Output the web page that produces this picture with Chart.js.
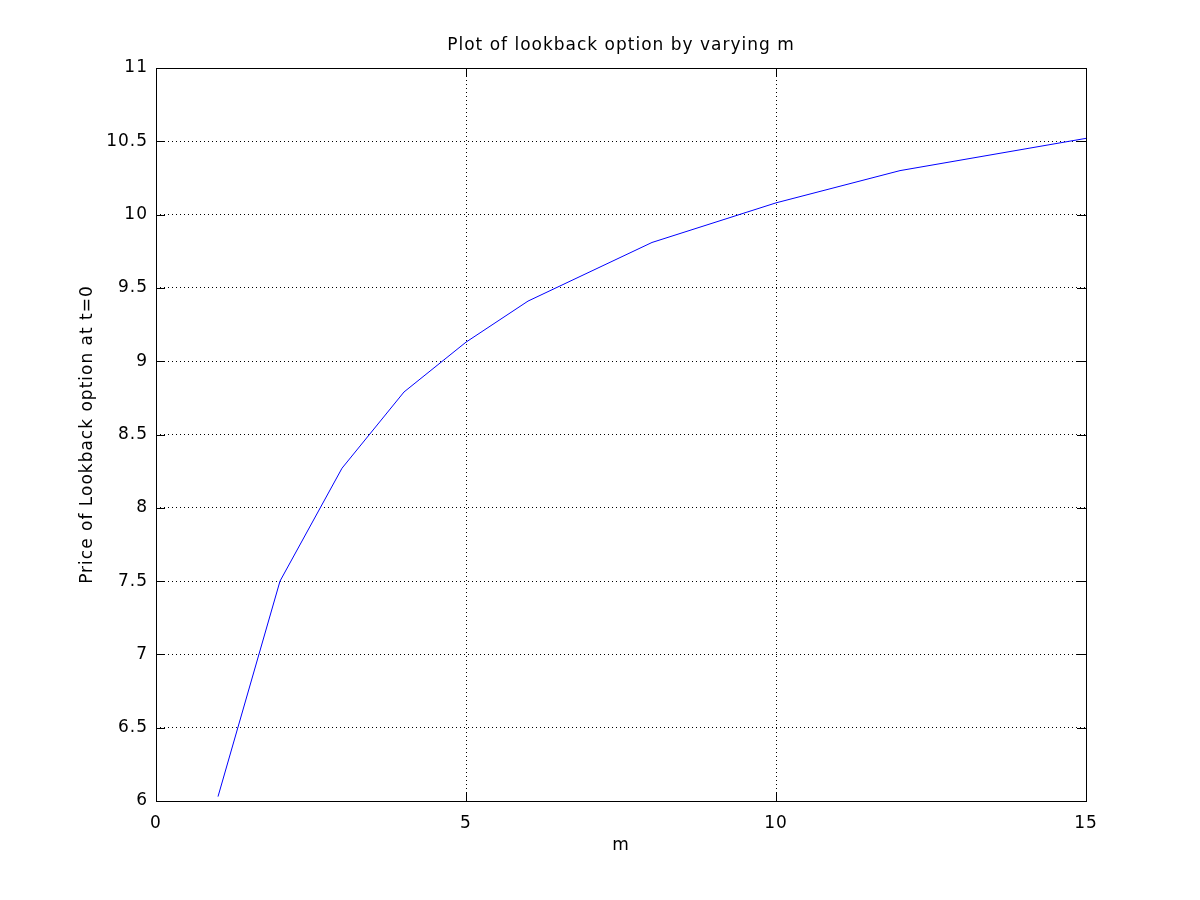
<!DOCTYPE html>
<html>
<head>
<meta charset="utf-8">
<script src="https://cdn.jsdelivr.net/npm/chart.js@4.4.0/dist/chart.umd.min.js"></script>
<style>
html,body{margin:0;padding:0;background:#fff;}
#wrap{width:1200px;height:900px;position:relative;}
</style>
</head>
<body>
<div id="wrap"><canvas id="c" width="1200" height="900"></canvas></div>
<script>
const mValues = [1, 2, 3, 4, 5, 6, 8, 10, 12, 15];
const prices = [6.03, 7.50, 8.27, 8.79, 9.13, 9.41, 9.81, 10.08, 10.30, 10.52];
const xTicks = [0, 5, 10, 15];
const yTicks = [6, 6.5, 7, 7.5, 8, 8.5, 9, 9.5, 10, 10.5, 11];
const titleText = 'Plot of lookback option by varying m';
const xTitle = 'm';
const yTitle = 'Price of Lookback option at t=0';

const FONT = '"DejaVu Sans", "Liberation Sans", Arial, sans-serif';
const FS = 17;

const spacingPlugin = {
  id: 'spacing',
  beforeDraw(chart) { chart.ctx.letterSpacing = '1px'; }
};

const framePlugin = {
  id: 'frame',
  afterDraw(chart) {
    const ctx = chart.ctx;
    const a = chart.chartArea;
    const xs = chart.scales.x, ys = chart.scales.y;
    ctx.save();
    ctx.strokeStyle = '#000';
    ctx.lineWidth = 1;
    ctx.setLineDash([]);
    ctx.strokeRect(Math.round(a.left) + 0.5, Math.round(a.top) + 0.5,
      Math.round(a.right - a.left), Math.round(a.bottom - a.top));
    const L = 9;
    ctx.beginPath();
    xTicks.forEach(v => {
      const px = Math.round(xs.getPixelForValue(v)) + 0.5;
      ctx.moveTo(px, a.bottom); ctx.lineTo(px, a.bottom - L);
      ctx.moveTo(px, a.top); ctx.lineTo(px, a.top + L);
    });
    yTicks.forEach(v => {
      const py = Math.round(ys.getPixelForValue(v)) + 0.5;
      ctx.moveTo(a.left, py); ctx.lineTo(a.left + L, py);
      ctx.moveTo(a.right, py); ctx.lineTo(a.right - L, py);
    });
    ctx.stroke();
    ctx.fillStyle = '#000';
    ctx.letterSpacing = '1px';
    ctx.font = FS + 'px ' + FONT;
    ctx.textAlign = 'center';
    ctx.textBaseline = 'middle';
    ctx.fillText(titleText, (a.left + a.right) / 2, 46);
    ctx.fillText(xTitle, (a.left + a.right) / 2, 846);
    ctx.translate(88, (a.top + a.bottom) / 2);
    ctx.rotate(-Math.PI / 2);
    ctx.fillText(yTitle, 0, 0);
    ctx.restore();
  }
};

new Chart(document.getElementById('c'), {
  type: 'line',
  data: {
    datasets: [{
      data: mValues.map((m, i) => ({x: m, y: prices[i]})),
      borderColor: '#0000ff',
      borderWidth: 1,
      pointRadius: 0,
      tension: 0,
      fill: false
    }]
  },
  options: {
    responsive: false,
    animation: false,
    devicePixelRatio: 1,
    layout: {padding: {left: 0, top: 68, right: 114, bottom: 0}},
    plugins: {legend: {display: false}, tooltip: {enabled: false}, title: {display: false}},
    scales: {
      x: {
        type: 'linear', min: 0, max: 15,
        afterBuildTicks: s => { s.ticks = xTicks.map(v => ({value: v})); },
        afterFit: s => { s.height = 99; },
        grid: {color: '#000', lineWidth: 1, drawTicks: false, tickLength: 0},
        border: {display: false, dash: [1, 3]},
        ticks: {color: '#000', font: {family: FONT, size: FS}, padding: 12, maxRotation: 0,
          callback: v => String(v)}
      },
      y: {
        type: 'linear', min: 6, max: 11,
        afterBuildTicks: s => { s.ticks = yTicks.map(v => ({value: v})); },
        afterFit: s => { s.width = 156; },
        grid: {color: '#000', lineWidth: 1, drawTicks: false, tickLength: 0},
        border: {display: false, dash: [1, 3]},
        ticks: {color: '#000', font: {family: FONT, size: FS}, padding: 8,
          callback: v => String(v)}
      }
    }
  },
  plugins: [spacingPlugin, framePlugin]
});
</script>
</body>
</html>
